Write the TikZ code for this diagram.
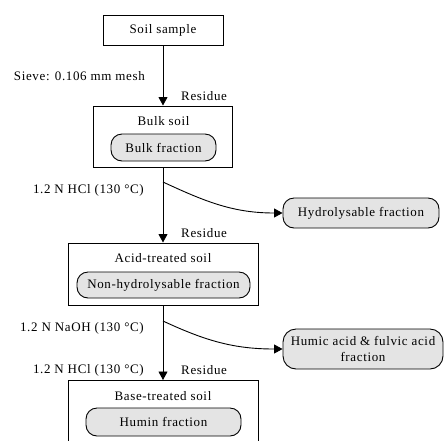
\documentclass[tikz,border=0pt]{standalone}
\usepackage{fontspec}
\setmainfont{Liberation Serif}[LetterSpace=5]
\usetikzlibrary{arrows.meta}
\definecolor{fracfill}{RGB}{228,228,228}
\tikzset{
  every node/.style={font=\fontsize{13}{16}\selectfont},
  soilbox/.style={draw, line width=1pt, inner sep=0pt, fill=white},
  fracbox/.style={draw, line width=0.9pt, rounded corners=11pt, fill=fracfill, inner sep=0pt, align=center},
  plain/.style={inner sep=0pt},
  flow/.style={line width=0.9pt, -{Triangle[length=8.5pt,width=9pt]}},
}
\begin{document}
\begin{tikzpicture}[x=1pt,y=1pt]
\useasboundingbox (0,0) rectangle (444,-440);
\clip (0,0) rectangle (444,-440);
% boxes
\node[soilbox, minimum width=120pt, minimum height=30pt] (sample) at (163,-30) {Soil sample};
\node[soilbox, minimum width=139pt, minimum height=61pt] (bulk) at (163,-136.5) {};
\node[plain] (bulkt) at (163.5,-121) {Bulk soil};
\node[fracbox, minimum width=105pt, minimum height=27pt] (bulkf) at (163.5,-147.5) {Bulk fraction};
\node[soilbox, minimum width=190pt, minimum height=62pt] (acid) at (163,-274) {};
\node[plain] (acidt) at (163,-258) {Acid-treated soil};
\node[fracbox, minimum width=173pt, minimum height=26pt] (nonh) at (163.5,-285) {Non-hydrolysable fraction};
\node[soilbox, minimum width=190pt, minimum height=90pt, anchor=north] (base) at (163,-380) {};
\node[plain] (baset) at (163,-396) {Base-treated soil};
\node[fracbox, minimum width=155pt, minimum height=28pt] (humin) at (163.5,-422) {Humin fraction};
\node[fracbox, minimum width=156pt, minimum height=30pt] (hydro) at (361,-213) {Hydrolysable fraction};
\node[fracbox, minimum width=160pt, minimum height=40pt, rounded corners=13pt] (humic) at (363,-349) {Humic acid \& fulvic acid\\fraction};
% labels
\node[plain, anchor=east] (sieve) at (145,-76) {Sieve: 0.106 mm mesh};
\node[plain, anchor=west] (res1) at (181,-96) {Residue};
\node[plain, anchor=east] (hcl1) at (144,-190) {1.2 N HCl (130 °C)};
\node[plain, anchor=west] (res2) at (181,-233) {Residue};
\node[plain, anchor=east] (naoh) at (144,-328) {1.2 N NaOH (130 °C)};
\node[plain, anchor=east] (hcl2) at (144,-370) {1.2 N HCl (130 °C)};
\node[plain, anchor=west] (res3) at (181,-370) {Residue};
% connectors
\coordinate (split1) at (163,-182);
\coordinate (split2) at (163,-321);
\draw[flow] (sample.south) -- (bulk.north);
\draw[flow] (bulk.south) -- (acid.north);
\draw[flow] (acid.south) -- (base.north);
\draw[flow] (split1) to[out=-25, in=180] (hydro.west);
\draw[flow] (split2) to[out=-25, in=180] (humic.west);
\end{tikzpicture}
\end{document}
